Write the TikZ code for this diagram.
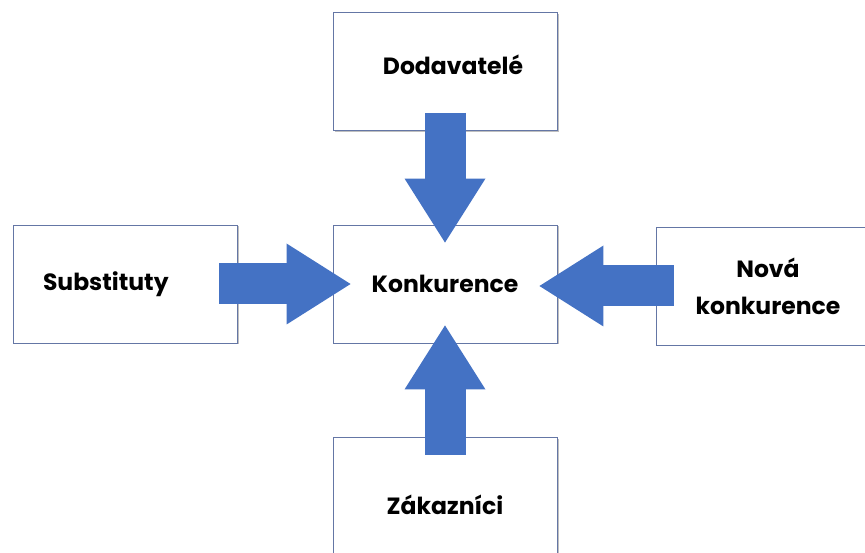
\documentclass[tikz,border=0pt]{standalone}
\usepackage{fontspec}
\setmainfont{Poppins}
\usetikzlibrary{arrows.meta, shadows}
\definecolor{boxline}{RGB}{100,118,165}
\definecolor{arrowblue}{RGB}{68,114,196}
\tikzset{
  box/.style={draw=boxline, line width=0.9pt, fill=white, minimum width=224pt, minimum height=118pt,
    inner sep=0pt, align=center, font=\fontsize{23.5}{37}\selectfont\bfseries,
    drop shadow={shadow xshift=1.5pt, shadow yshift=-1.5pt, opacity=0.25, fill=black}},
  bigarrow/.style={arrowblue, line width=41pt, -{Triangle[length=64pt, width=81pt, line width=0pt]},
    shorten <=-18pt, shorten >=-18pt}
}
\begin{document}
\begin{tikzpicture}[x=1pt, y=-1pt]
        \useasboundingbox (0,0) rectangle (865,553);
        \clip (0,0) rectangle (865,553);
        % boxes
        \node [box, text width=156pt, align=right, text depth=14pt] (dod) at (445,71.5) {Dodavatelé};
        \node [box] (konk) at (445,284) {Konkurence};
        \node [box, text width=164pt, align=left] (sub) at (125,284) {Substituty};
        \node [box] (nova) at (768,286) {Nová\\konkurence};
        \node [box, minimum height=136pt] (zak) at (445,505) {Zákazníci};
        % arrows
        \draw [bigarrow] (dod.south) -- (konk.north);
        \draw [bigarrow] (sub.east) -- (konk.west);
        \draw [bigarrow] (nova.west) -- (konk.east |- nova.west);
        \draw [bigarrow] (zak.north) -- (konk.south);
\end{tikzpicture}
\end{document}
